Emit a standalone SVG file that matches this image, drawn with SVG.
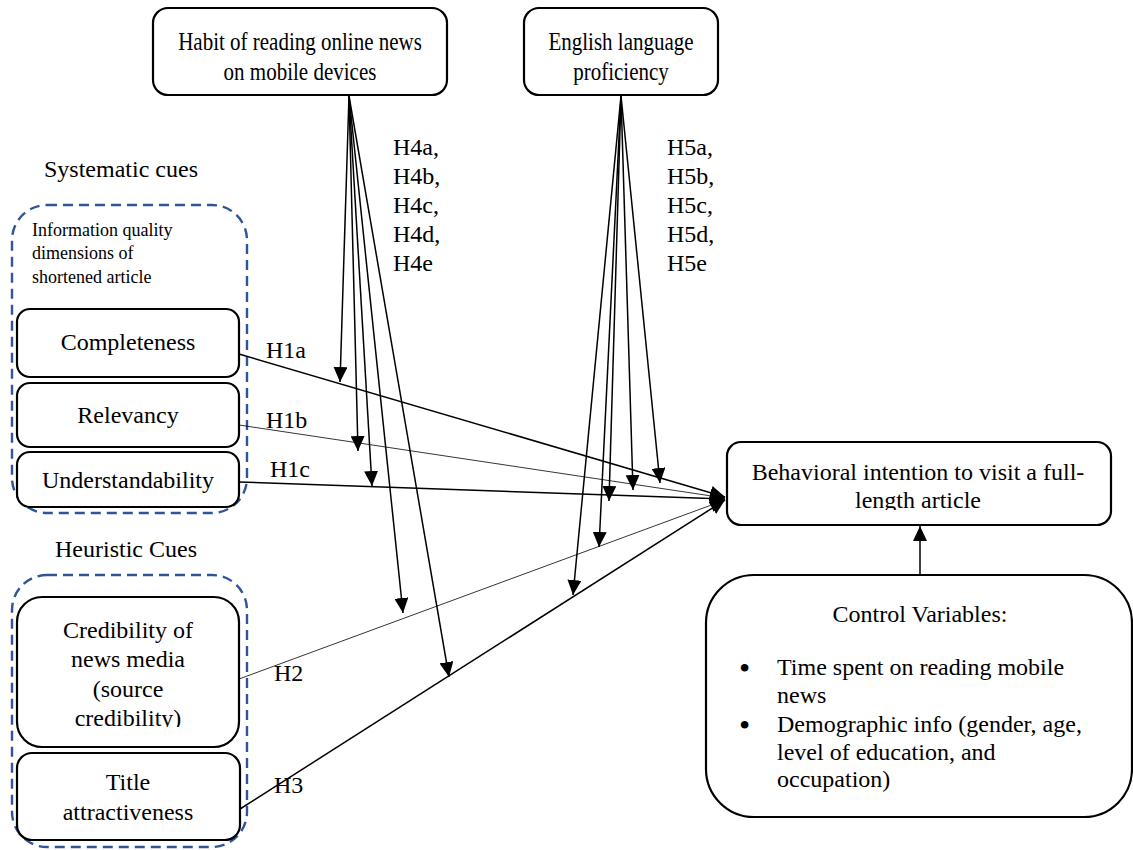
<svg xmlns="http://www.w3.org/2000/svg" width="1133" height="850" viewBox="0 0 1133 850">
<style>
text{font-family:"Liberation Serif","Times New Roman",serif;fill:#000;font-size:24px}
.c{text-anchor:middle}
.sm{font-size:18px}
.bul{font-size:32px}
.box{fill:#fff;stroke:#000;stroke-width:2.2}
.dash{fill:none;stroke:#2F5597;stroke-width:2.4;stroke-dasharray:10 6}
.ln{fill:none;stroke:#000;stroke-width:1.5}
.th{fill:none;stroke:#000;stroke-width:0.8}
</style>
<defs>
<marker id="ah" markerUnits="userSpaceOnUse" markerWidth="15" markerHeight="14" refX="15" refY="7" orient="auto" viewBox="0 0 15 14">
<path d="M0,0 L15,7 L0,14 z" fill="#000"/>
</marker>
<clipPath id="clipBeh"><rect x="727" y="442" width="384" height="68"/></clipPath>
<clipPath id="clipCred"><rect x="17" y="597" width="222" height="130"/></clipPath>
</defs>
<rect width="1133" height="850" fill="#fff"/>

<g id="group-systematic">
<text x="121" y="177" class="c">Systematic cues</text>
<rect x="12" y="205" width="235" height="308" rx="35" class="dash"/>
<text x="32" y="236" class="sm">Information quality</text>
<text x="32" y="259" class="sm">dimensions of</text>
<text x="32" y="283" class="sm">shortened article</text>
</g>
<g id="group-heuristic">
<text x="126" y="557" class="c">Heuristic Cues</text>
<rect x="12" y="575" width="235" height="272" rx="35" class="dash"/>
</g>

<g id="connectors">
<line x1="239" y1="354" x2="725" y2="497" class="ln" marker-end="url(#ah)"/>
<line x1="239" y1="425" x2="725" y2="498" class="th" marker-end="url(#ah)"/>
<line x1="239" y1="482" x2="725" y2="499" class="ln" marker-end="url(#ah)"/>
<line x1="239" y1="679" x2="725" y2="500" class="th" marker-end="url(#ah)"/>
<line x1="240" y1="809" x2="725" y2="500" class="ln" marker-end="url(#ah)"/>
<line x1="349" y1="96" x2="340" y2="382" class="ln" marker-end="url(#ah)"/>
<line x1="349" y1="96" x2="358" y2="451" class="ln" marker-end="url(#ah)"/>
<line x1="349" y1="96" x2="372" y2="486" class="ln" marker-end="url(#ah)"/>
<line x1="349" y1="96" x2="403" y2="613" class="ln" marker-end="url(#ah)"/>
<line x1="349" y1="96" x2="449" y2="677" class="ln" marker-end="url(#ah)"/>
<line x1="621" y1="96" x2="660" y2="483" class="ln" marker-end="url(#ah)"/>
<line x1="621" y1="96" x2="633" y2="490" class="ln" marker-end="url(#ah)"/>
<line x1="621" y1="96" x2="609" y2="501" class="ln" marker-end="url(#ah)"/>
<line x1="621" y1="96" x2="599" y2="547" class="ln" marker-end="url(#ah)"/>
<line x1="621" y1="96" x2="573" y2="595" class="ln" marker-end="url(#ah)"/>
<line x1="920" y1="575" x2="920" y2="526" class="ln" marker-end="url(#ah)"/>
<text x="266" y="358">H1a</text>
<text x="266" y="428">H1b</text>
<text x="270" y="477">H1c</text>
<text x="274" y="681">H2</text>
<text x="274" y="793">H3</text>
<text x="393" y="155">H4a,</text>
<text x="393" y="184">H4b,</text>
<text x="393" y="213">H4c,</text>
<text x="393" y="242">H4d,</text>
<text x="393" y="271">H4e</text>
<text x="667" y="155">H5a,</text>
<text x="667" y="184">H5b,</text>
<text x="667" y="213">H5c,</text>
<text x="667" y="242">H5d,</text>
<text x="667" y="271">H5e</text>
</g>

<g id="node-habit">
<rect x="153" y="8" width="294" height="87" rx="15" class="box"/>
<g transform="translate(300,0) scale(0.875,1.05)">
<text x="0" y="48" class="c">Habit of reading online news</text>
<text x="0" y="76" class="c">on mobile devices</text>
</g>
</g>
<g id="node-english">
<rect x="524" y="8" width="194" height="87" rx="15" class="box"/>
<g transform="translate(621,0) scale(0.875,1.05)">
<text x="0" y="48" class="c">English language</text>
<text x="0" y="76" class="c">proficiency</text>
</g>
</g>

<g id="node-completeness">
<rect x="17" y="309" width="222" height="68" rx="13" class="box"/>
<text x="128" y="350" class="c">Completeness</text>
</g>
<g id="node-relevancy">
<rect x="17" y="383" width="222" height="64" rx="13" class="box"/>
<text x="128" y="423" class="c">Relevancy</text>
</g>
<g id="node-understandability">
<rect x="17" y="452" width="222" height="55" rx="13" class="box"/>
<text x="128" y="488" class="c">Understandability</text>
</g>

<g id="node-credibility">
<rect x="17" y="597" width="222" height="150" rx="25" class="box"/>
<g clip-path="url(#clipCred)">
<text x="128" y="638" class="c">Credibility of</text>
<text x="128" y="667" class="c">news media</text>
<text x="128" y="697" class="c">(source</text>
<text x="128" y="726" class="c">credibility)</text>
</g>
</g>
<g id="node-title">
<rect x="17" y="753" width="223" height="87" rx="15" class="box"/>
<text x="128" y="790" class="c">Title</text>
<text x="128" y="820" class="c">attractiveness</text>
</g>

<g id="node-behavioral">
<rect x="727" y="442" width="384" height="83" rx="14" class="box"/>
<g clip-path="url(#clipBeh)">
<text x="918" y="480" class="c">Behavioral intention to visit a full-</text>
<text x="918" y="508" class="c">length article</text>
</g>
</g>

<g id="node-control">
<rect x="706" y="575" width="426" height="242" rx="48" class="box"/>
<text x="920" y="622" class="c">Control Variables:</text>
<text x="739" y="679" class="bul">•</text>
<text x="777" y="675">Time spent on reading mobile</text>
<text x="777" y="703">news</text>
<text x="739" y="736" class="bul">•</text>
<text x="777" y="732">Demographic info (gender, age,</text>
<text x="777" y="760">level of education, and</text>
<text x="777" y="787">occupation)</text>
</g>
</svg>
